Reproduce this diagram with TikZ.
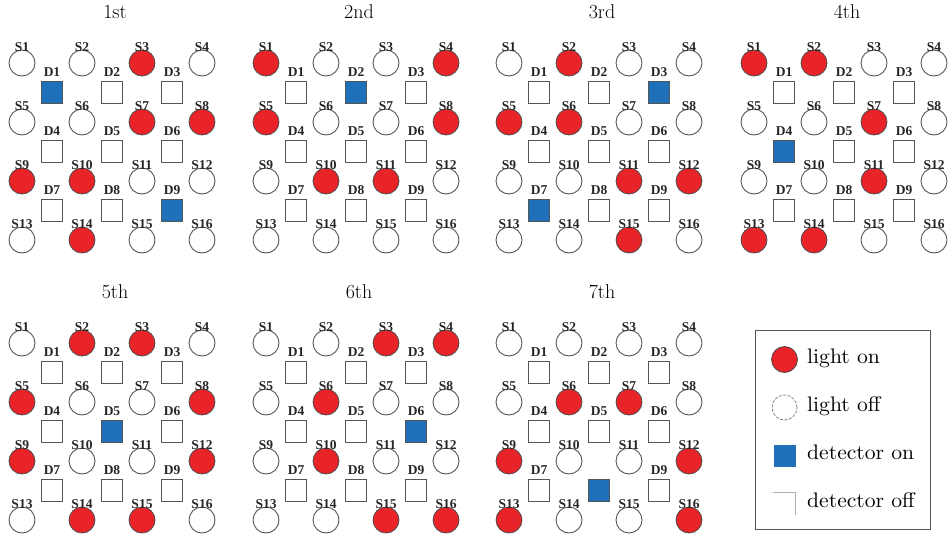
\documentclass[tikz,border=0pt]{standalone}
\usepackage{fontspec}
\newfontfamily\lblfont{Liberation Serif}
\newfontfamily\legfont{lmroman10-regular}[Extension=.otf, FakeStretch=1.03]
\definecolor{lon}{RGB}{232,36,40}
\definecolor{don}{RGB}{30,112,184}
\definecolor{edge}{RGB}{85,85,85}
\tikzset{
  lighton/.style={circle, draw=black!70, fill=lon, minimum size=26pt, inner sep=0pt, line width=0.8pt},
  lightoff/.style={circle, draw=edge, fill=white, minimum size=26pt, inner sep=0pt, line width=0.9pt},
  deton/.style={rectangle, draw=edge, fill=don, minimum size=21.5pt, inner sep=0pt, line width=0.9pt},
  detoff/.style={rectangle, draw=edge, fill=white, minimum size=21.5pt, inner sep=0pt, line width=0.9pt},
  lbl/.style={font=\lblfont\bfseries\fontsize{13.5}{13.5}\selectfont, inner sep=0pt, text=black!85},
  ttl/.style={font=\fontsize{20}{20}\selectfont, inner sep=0pt},
  legtxt/.style={font=\legfont\fontsize{21}{21}\selectfont, anchor=base west, inner sep=0pt},
}
\newcommand\mkpanel[6]{% #1 id, #2 xoff, #3 yoff, #4 title, #5 lights on, #6 detectors on
  \foreach \k in {#5} {\expandafter\gdef\csname lit#1-\k\endcsname{}}
  \foreach \k in {#6} {\expandafter\gdef\csname det#1-\k\endcsname{}}
  \node[ttl] (t#1) at (#2+115, #3+12) {#4};
  \foreach \ii in {0,...,3} {\foreach \jj in {0,...,3} {
    \pgfmathtruncatemacro\n{4*\ii+\jj+1}
    \ifcsname lit#1-\n\endcsname\tikzset{cur/.style={lighton}}\else\tikzset{cur/.style={lightoff}}\fi
    \node[cur] (p#1s\n) at (#2+22+60*\jj, #3+63+59*\ii) {};
    \node[lbl] (p#1sl\n) at (#2+22+60*\jj, #3+47+59*\ii) {S\n};
  }}
  \foreach \ii in {0,...,2} {\foreach \jj in {0,...,2} {
    \pgfmathtruncatemacro\n{3*\ii+\jj+1}
    \ifcsname det#1-\n\endcsname\tikzset{cur/.style={deton}}\else\tikzset{cur/.style={detoff}}\fi
    \node[cur] (p#1d\n) at (#2+52+60*\jj, #3+92.5+59*\ii) {};
    \ifcsname nolbl#1-\n\endcsname\else
      \node[lbl] (p#1dl\n) at (#2+52+60*\jj, #3+72.5+59*\ii) {D\n};
    \fi
  }}
}
\expandafter\gdef\csname nolbl7-8\endcsname{}
\begin{document}
\begin{tikzpicture}[x=1pt,y=-1pt]
\useasboundingbox (0,0) rectangle (949,533);
\mkpanel{1}{0}{0}{1st}{3,7,8,9,10,14}{1,9}
\mkpanel{2}{244}{0}{2nd}{1,4,5,8,10,11}{2}
\mkpanel{3}{487}{0}{3rd}{2,5,6,11,12,15}{3,7}
\mkpanel{4}{732}{0}{4th}{1,2,7,11,13,14}{4}
\mkpanel{5}{0}{280}{5th}{2,3,5,8,9,12,14,15}{5}
\mkpanel{6}{244}{280}{6th}{3,4,6,10,15,16}{6}
\mkpanel{7}{487}{280}{7th}{6,7,9,12,13,16}{8}
% legend
\node[draw=edge, line width=0.9pt, minimum width=175pt, minimum height=199pt, inner sep=0pt] (leg) at (842.5,429.5) {};
\node[lighton] (lg1) at (784.5,359.5) {};
\node[legtxt] (lg1t) at (807,363.5) {light on};
\node[circle, draw=gray, dash pattern=on 3pt off 1.5pt, minimum size=25pt, inner sep=0pt, line width=0.8pt] (lg2) at (784.5,407.5) {};
\node[legtxt] (lg2t) at (807,411.5) {light off};
\node[rectangle, fill=don, minimum size=22pt, inner sep=0pt] (lg3) at (784.5,455.5) {};
\node[legtxt] (lg3t) at (807,459) {detector on};
\node[rectangle, minimum size=22pt, inner sep=0pt] (lg4) at (784.5,503.5) {};
\draw[black!30, line width=0.8pt] (lg4.north west) -- (lg4.north east) -- (lg4.south east);
\node[legtxt] (lg4t) at (807,507) {detector off};
\end{tikzpicture}
\end{document}
